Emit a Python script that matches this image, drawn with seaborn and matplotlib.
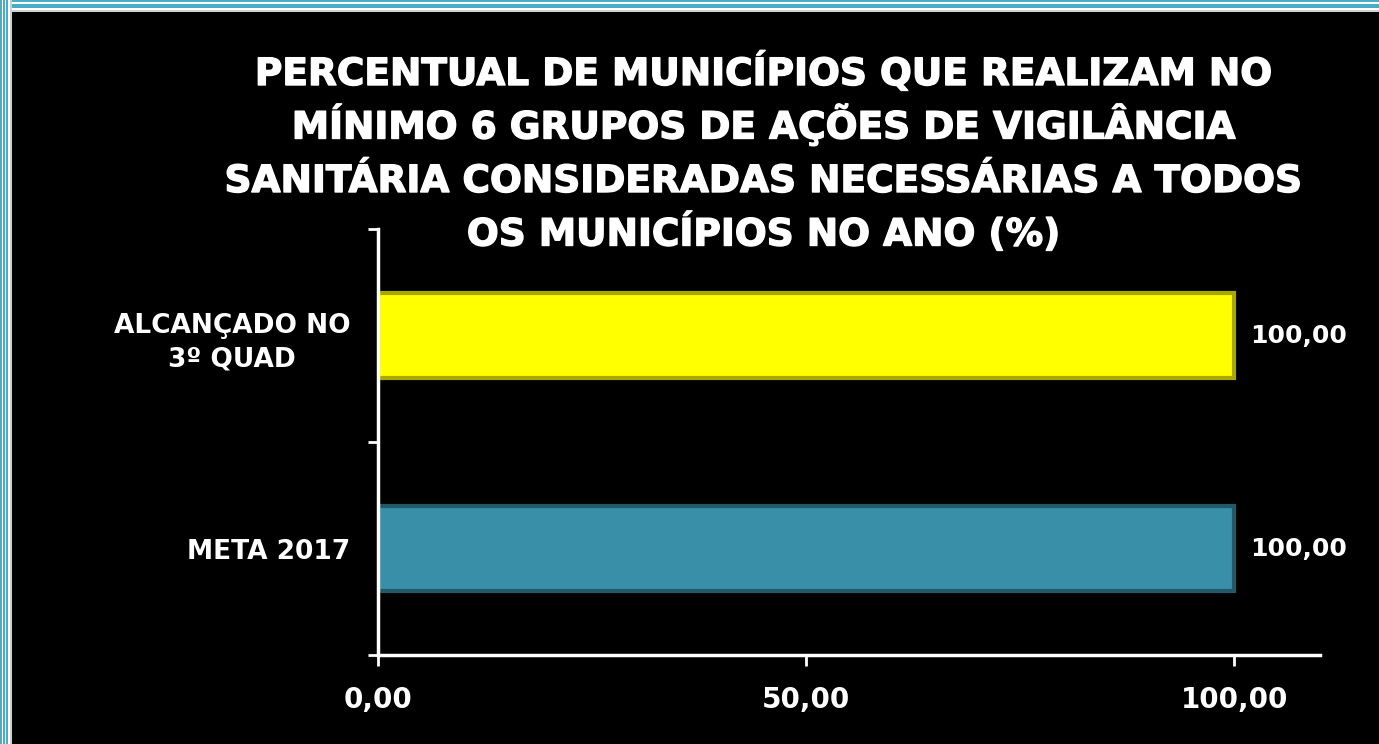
import matplotlib
matplotlib.use("Agg")
import matplotlib.pyplot as plt
import matplotlib.patheffects as pe
import seaborn as sns
import pandas as pd
from matplotlib.patches import Rectangle

categories = ["ALCANÇADO NO\n3º QUAD", "META 2017"]
values = [100.00, 100.00]
bar_colors = ["#FFFF00", "#3A8FA8"]
edge_colors = ["#A8A800", "#21586A"]
xtick_values = [0, 50, 100]
xtick_labels = ["0,00", "50,00", "100,00"]
title_lines = ["PERCENTUAL DE MUNICÍPIOS QUE REALIZAM NO",
               "MÍNIMO 6 GRUPOS DE AÇÕES DE VIGILÂNCIA",
               "SANITÁRIA CONSIDERADAS NECESSÁRIAS A TODOS",
               "OS MUNICÍPIOS NO ANO (%)"]

sns.set_theme(style="dark", rc={"xtick.bottom": True, "ytick.left": True})
plt.rcParams['font.family'] = ['DejaVu Sans']

df = pd.DataFrame({"cat": categories, "val": values})

W, H = 1379, 744
fig = plt.figure(figsize=(13.79, 7.44), dpi=100, facecolor="black")
ax = fig.add_axes([0.2741, 0.1196, 0.9572 - 0.2741, 0.6922 - 0.1196])
ax.set_facecolor("black")

sns.barplot(data=df, y="cat", x="val", hue="cat", palette=bar_colors, orient="h",
            width=0.40, ax=ax, legend=False, saturation=1)
for p, ec in zip(ax.patches, edge_colors):
    p.set_edgecolor(ec)
    p.set_linewidth(3)

ax.set_xlim(0, 110)
ax.set_ylim(1.5, -0.5)
ax.set_xticks(xtick_values)
ax.set_xticklabels(xtick_labels, color="white", fontsize=20, fontweight="bold")
ax.set_yticks([0, 1])
ax.set_yticklabels(categories, color="white", fontsize=19, fontweight="bold")
for lab in ax.get_yticklabels():
    lab.set_multialignment("center")
    lab.set_linespacing(1.4)
ax.set_yticks([-0.5, 0.5, 1.5], minor=True)
ax.tick_params(axis="y", which="major", length=0, pad=20, left=True)
ax.tick_params(axis="y", which="minor", length=7, width=2, color="white", direction="out", left=True)
ax.tick_params(axis="x", which="major", length=8, width=2, color="white", direction="out",
               pad=14, bottom=True)
ax.set_xlabel("")
ax.set_ylabel("")
ax.grid(False)
for s in ["top", "right"]:
    ax.spines[s].set_visible(False)
for s in ["left", "bottom"]:
    ax.spines[s].set_visible(True)
    ax.spines[s].set_color("white")
    ax.spines[s].set_linewidth(2.5)

for i, v in enumerate(values):
    ax.text(v + 1.8, i, f"{v:.2f}".replace(".", ","), color="white", fontsize=18,
            fontweight="bold", va="center", ha="left")

baselines = [85, 138.5, 192, 245.5]
for line, yb in zip(title_lines, baselines):
    fig.text(764 / W, 1 - yb / H, line, color="white", fontsize=27, fontweight="bold",
             ha="center", va="baseline",
             path_effects=[pe.withStroke(linewidth=1.0, foreground="white")])

# decorative border (top and left)
def hband(y0, h, c):
    fig.patches.append(Rectangle((0, 1 - (y0 + h) / H), 1, h / H, transform=fig.transFigure,
                                 facecolor=c, edgecolor="none", zorder=10))
def vband(x0, w, c):
    fig.patches.append(Rectangle((x0 / W, 0), w / W, 1, transform=fig.transFigure,
                                 facecolor=c, edgecolor="none", zorder=10))
blue = "#4BACC6"
hband(0, 2, blue); hband(2, 2, "white"); hband(4, 4, blue); hband(8, 2, "white"); hband(10, 2, "#D0D0D0")
vband(0, 1.5, blue); vband(1.5, 1.5, "white"); vband(3, 1.5, blue); vband(4.5, 1.5, "white")
vband(6, 2, blue); vband(8, 2, "white"); vband(10, 2, "#D0D0D0")

fig.savefig("out.png", dpi=100, facecolor="black")
